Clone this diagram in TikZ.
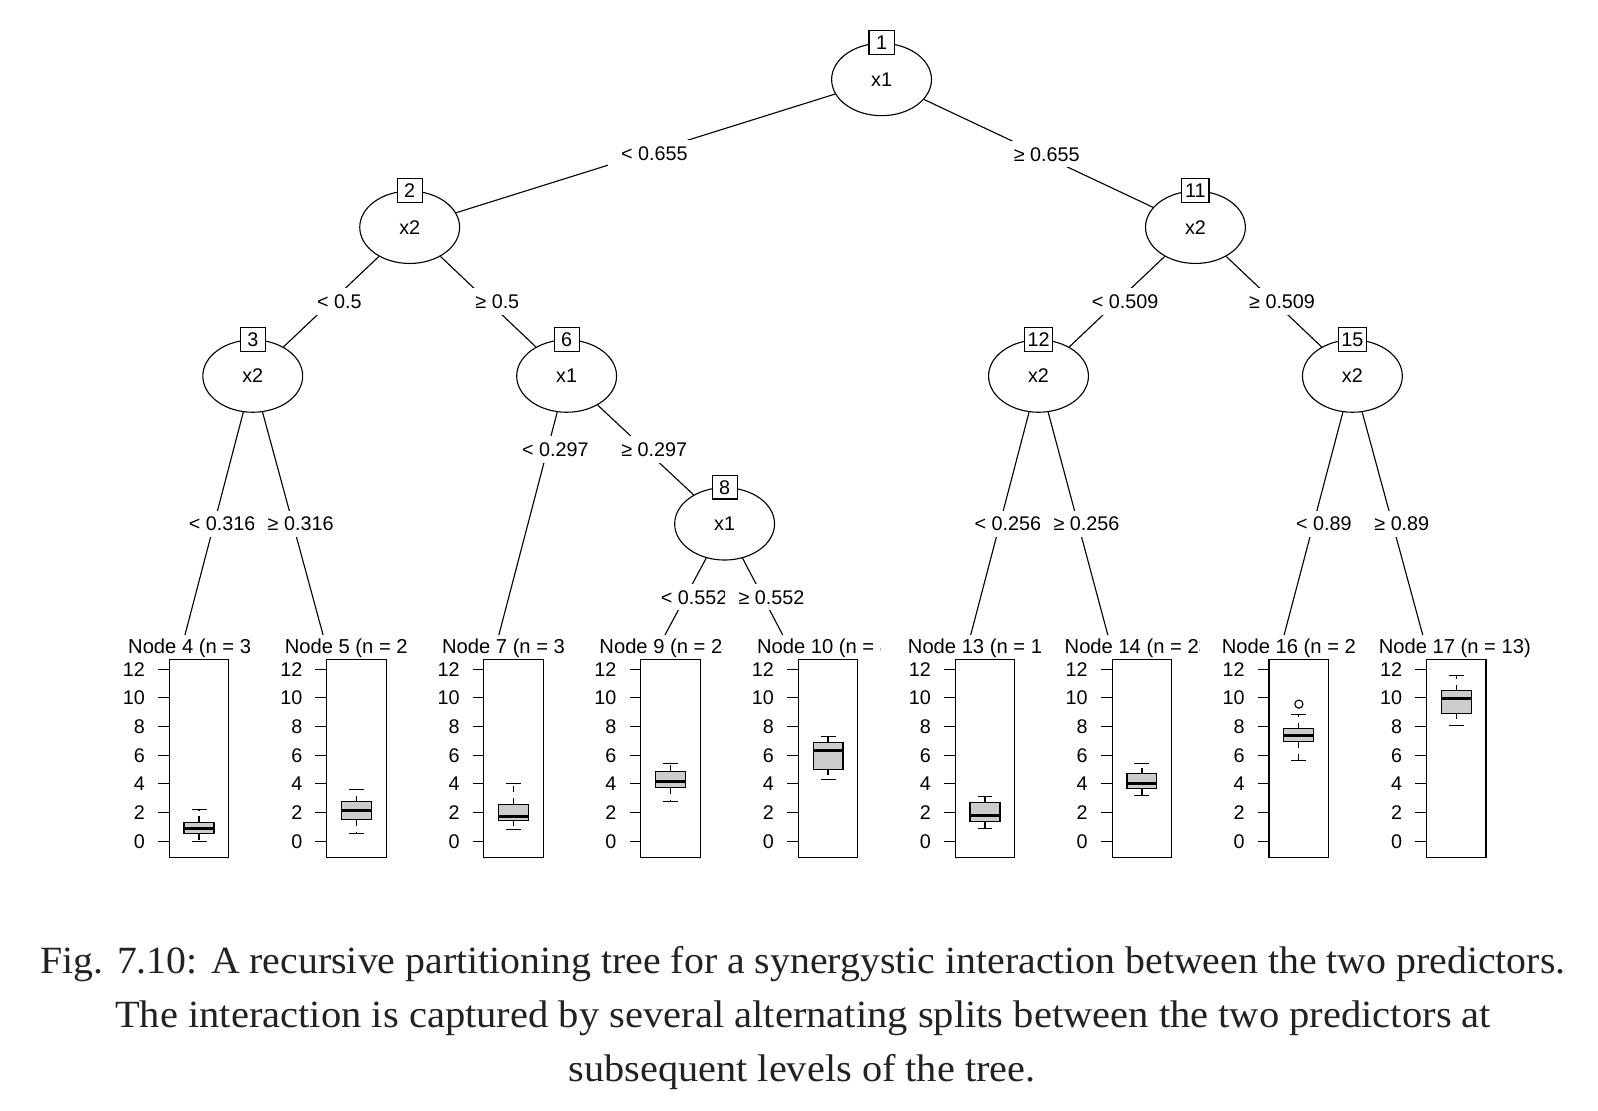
\documentclass[tikz,border=0pt]{standalone}
\usepackage{fontspec}
\usepackage{graphicx}
\setmainfont{Liberation Sans}
\newfontfamily\capfont{Liberation Serif}
\usetikzlibrary{shapes.geometric}
\definecolor{boxgray}{RGB}{204,204,204}
\definecolor{captext}{RGB}{34,34,34}
\newcommand\yv[1]{825.4-14.07*(#1)}
% terminal label: #1 label start x, #2 clip x, #3 text, #4 name
\newcommand\leaflabel[4]{%
  \begin{scope}
    \clip (#1-10,600) rectangle (#2,650);
    \node[leaflab, anchor=base west] (lab#4) at (#1-1.5,641.5) {#3};
  \end{scope}
}
% terminal panel: #1 L, #2 low cap, #3 q1, #4 median, #5 q3, #6 high cap, #7 name
\newcommand\leafbox[7]{%
  \draw[frame] (#1,647) rectangle (#1+58.5,841);
  \foreach \v in {0,2,4,6,8,10,12} {
    \draw[frame] (#1-11,{\yv{\v}}) -- (#1,{\yv{\v}});
    \node[ticklab, anchor=base east] (tk#7v\v) at (#1-23.5,{\yv{\v}+7}) {\v};
  }
  \draw[whisk] (#1+29.3,{\yv{#3}}) -- (#1+29.3,{\yv{#2}});
  \draw[whisk] (#1+29.3,{\yv{#5}}) -- (#1+29.3,{\yv{#6}});
  \draw[frame] (#1+21.95,{\yv{#2}}) -- (#1+36.65,{\yv{#2}});
  \draw[frame] (#1+21.95,{\yv{#6}}) -- (#1+36.65,{\yv{#6}});
  \draw[frame, fill=boxgray] (#1+14.6,{\yv{#3}}) rectangle (#1+44,{\yv{#5}});
  \draw[median] (#1+14.6,{\yv{#4}}) -- (#1+44,{\yv{#4}});
}
\begin{document}
\begin{tikzpicture}[x=0.5pt,y=-0.5pt,
  txt/.style={font=\fontsize{9.7}{11.6}\selectfont},
  inner/.style={ellipse, draw, fill=white, line width=0.55pt, minimum width=49pt, minimum height=35.5pt, inner sep=0pt, txt},
  idbox/.style={draw, fill=white, line width=0.55pt, minimum width=12.3pt, minimum height=11.7pt, inner xsep=1.6pt, inner ysep=2.2pt, text height=7pt, text depth=0pt, txt},
  brlab/.style={fill=white, inner xsep=6.5pt, inner ysep=3pt, text height=7pt, text depth=0pt, txt},
  leaflab/.style={inner sep=0pt, font=\fontsize{9.9}{11.8}\selectfont},
  ticklab/.style={inner sep=0pt, txt},
  edge/.style={line width=0.55pt},
  frame/.style={line width=0.55pt},
  whisk/.style={line width=0.55pt, dash pattern=on 3pt off 3pt},
  median/.style={line width=1.4pt},
  captxt/.style={inner sep=0pt, anchor=base, text=captext, font=\capfont\fontsize{18.9}{22}\selectfont}]
\fill[white] (0,0) rectangle (1568,1089.2);
\useasboundingbox (0,0) rectangle (1568,1089.2);

% inner nodes
\node[inner] (n1) at (865,78) {x1};
\node[inner] (n2) at (402,223) {x2};
\node[inner] (n11) at (1173,223) {x2};
\node[inner] (n3) at (248,369) {x2};
\node[inner] (n6) at (556,369) {x1};
\node[inner] (n12) at (1019,369) {x2};
\node[inner] (n15) at (1327,369) {x2};
\node[inner] (n8) at (711,514) {x1};

% leaf line end points
\coordinate (t4) at (181.5,623);
\coordinate (t5) at (317,623);
\coordinate (t7) at (489.5,623);
\coordinate (t9) at (652.5,623);
\coordinate (t10) at (768,623);
\coordinate (t13) at (952.5,623);
\coordinate (t14) at (1087,623);
\coordinate (t16) at (1260,623);
\coordinate (t17) at (1396,623);

% edges
\draw[edge] (n1) -- (n2);
\draw[edge] (n1) -- (n11);
\draw[edge] (n2) -- (n3);
\draw[edge] (n2) -- (n6);
\draw[edge] (n11) -- (n12);
\draw[edge] (n11) -- (n15);
\draw[edge] (n3) -- (t4);
\draw[edge] (n3) -- (t5);
\draw[edge] (n6) -- (t7);
\draw[edge] (n6) -- (n8);
\draw[edge] (n8) -- (t9);
\draw[edge] (n8) -- (t10);
\draw[edge] (n12) -- (t13);
\draw[edge] (n12) -- (t14);
\draw[edge] (n15) -- (t16);
\draw[edge] (n15) -- (t17);

% id boxes
\node[idbox] (b1) at (n1.north) {1};
\node[idbox] (b2) at (n2.north) {2};
\node[idbox] (b11) at (n11.north) {11};
\node[idbox] (b3) at (n3.north) {3};
\node[idbox] (b6) at (n6.north) {6};
\node[idbox] (b12) at (n12.north) {12};
\node[idbox] (b15) at (n15.north) {15};
\node[idbox] (b8) at (n8.north) {8};

% branch labels
\node[brlab] (e12) at (642,150) {< 0.655};
\node[brlab] (e111) at (1027,151) {≥ 0.655};
\node[brlab] (e23) at (333,296) {< 0.5};
\node[brlab] (e26) at (488,296) {≥ 0.5};
\node[brlab] (e1112) at (1104,296) {< 0.509};
\node[brlab] (e1115) at (1258,296) {≥ 0.509};
\node[brlab] (e67) at (545,441) {< 0.297};
\node[brlab] (e68) at (642,441) {≥ 0.297};
\node[brlab] (e34) at (218,514) {< 0.316};
\node[brlab] (e35) at (295,514) {≥ 0.316};
\node[brlab] (e1213) at (989,514) {< 0.256};
\node[brlab] (e1214) at (1066,514) {≥ 0.256};
\node[brlab] (e1516) at (1299,514) {< 0.89};
\node[brlab] (e1517) at (1375.5,514) {≥ 0.89};
\node[brlab] (e89) at (681,586) {< 0.552};
\node[brlab] (e810) at (757,586) {≥ 0.552};

% terminal labels
\leaflabel{126.9}{246}{Node 4 (n = 38)}{L4}
\leaflabel{280.6}{400}{Node 5 (n = 20)}{L5}
\leaflabel{434.9}{554}{Node 7 (n = 30)}{L7}
\leaflabel{589.3}{709}{Node 9 (n = 24)}{L9}
\leaflabel{743.9}{864}{Node 10 (n = 8)}{L10}
\leaflabel{892}{1021.5}{Node 13 (n = 11)}{L13}
\leaflabel{1045.8}{1176.5}{Node 14 (n = 23)}{L14}
\leaflabel{1200}{1330.5}{Node 16 (n = 27)}{L16}
\leaflabel{1354}{1560}{Node 17 (n = 13)}{L17}

% terminal panels
\leafbox{166}{0.0}{0.51}{0.86}{1.33}{2.19}{P4}
\leafbox{320.5}{0.56}{1.49}{2.16}{2.74}{3.63}{P5}
\leafbox{474.8}{0.84}{1.47}{1.72}{2.58}{4.05}{P7}
\leafbox{628.8}{2.77}{3.74}{4.19}{4.86}{5.44}{P9}
\leafbox{783.2}{4.28}{5.02}{6.30}{6.88}{7.28}{P10}
\leafbox{937.2}{0.91}{1.35}{1.79}{2.67}{3.12}{P13}
\leafbox{1091.2}{3.19}{3.67}{4.05}{4.70}{5.44}{P14}
\leafbox{1245.2}{5.63}{6.93}{7.40}{7.84}{8.84}{P16}
\leafbox{1399.6}{8.05}{8.93}{9.93}{10.49}{11.58}{P17}
\draw[frame] (1274.5,{\yv{9.56}}) circle[radius=2pt];

% caption
\node[captxt] (cap1) at (788,955) {\resizebox{748pt}{\height}{Fig. 7.10: A recursive partitioning tree for a synergystic interaction between the two predictors.}};
\node[captxt] (cap2) at (788,1008) {\resizebox{675pt}{\height}{The interaction is captured by several alternating splits between the two predictors at}};
\node[captxt] (cap3) at (787,1061) {\resizebox{229pt}{\height}{subsequent levels of the tree.}};
\end{tikzpicture}
\end{document}
